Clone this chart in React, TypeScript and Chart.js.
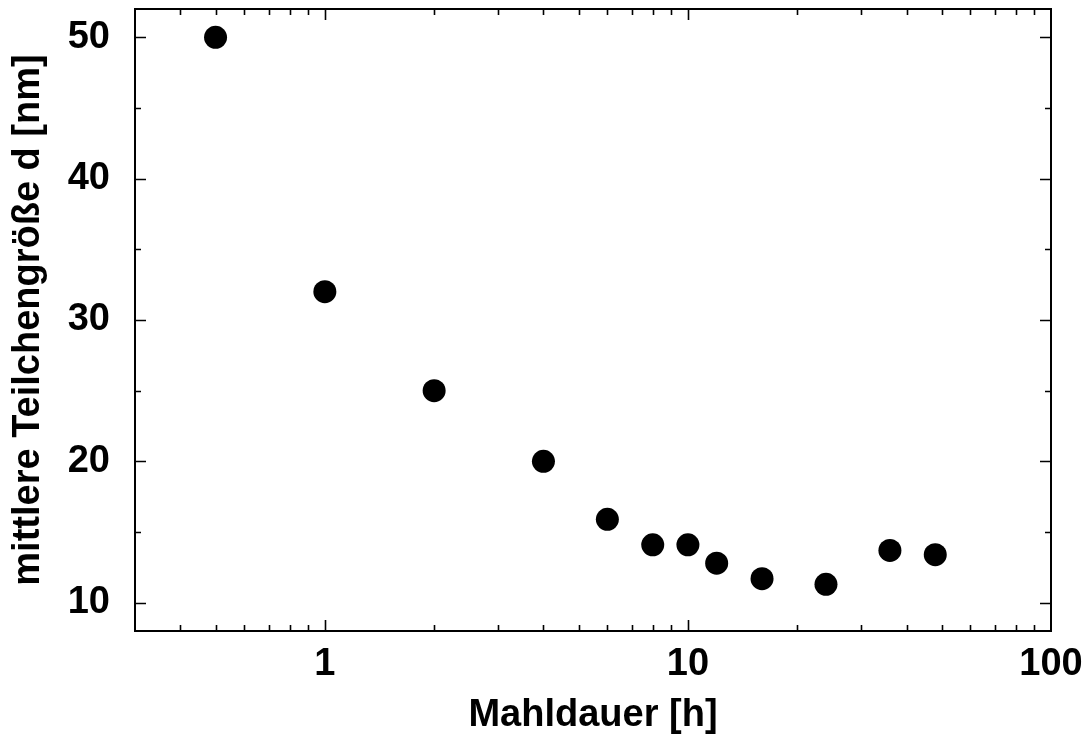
import { useEffect, useRef } from 'react';
import { Chart, registerables } from 'chart.js';

Chart.register(...registerables);

// Data
const millingHours = [0.5, 1, 2, 4, 6, 8, 10, 12, 16, 24, 36, 48];
const particleSizes = [50, 32, 25, 20, 15.9, 14.1, 14.1, 12.8, 11.7, 11.3, 13.7, 13.4];

// Axis ticks
const xMajorTicks = [1, 10, 100];
const xMinorTicks = [0.4, 0.5, 0.6, 0.7, 0.8, 0.9, 2, 3, 4, 5, 6, 7, 8, 9, 20, 30, 40, 50, 60, 70, 80, 90];
const yMajorTicks = [10, 20, 30, 40, 50];
const yMinorTicks = [15, 25, 35, 45];

const xTitle = 'Mahldauer [h]';
const yTitle = 'mittlere Teilchengröße d [nm]';

const FONT = "'Liberation Sans', Arial, Helvetica, sans-serif";

const frameTicksPlugin = {
  id: 'frameTicks',
  beforeDatasetsDraw(chart: any) {
    const { ctx, chartArea, scales } = chart;
    const { left, right, top, bottom } = chartArea;
    ctx.save();
    ctx.strokeStyle = '#000';
    ctx.lineWidth = 1.6;
    const drawX = (vals: number[], len: number) => {
      vals.forEach((v) => {
        const px = Math.round(scales.x.getPixelForValue(v)) + 0.5;
        if (px <= left + 1 || px >= right - 1) return;
        ctx.beginPath();
        ctx.moveTo(px, bottom);
        ctx.lineTo(px, bottom - len);
        ctx.moveTo(px, top);
        ctx.lineTo(px, top + len);
        ctx.stroke();
      });
    };
    const drawY = (vals: number[], len: number) => {
      vals.forEach((v) => {
        const py = Math.round(scales.y.getPixelForValue(v)) + 0.5;
        if (py <= top + 1 || py >= bottom - 1) return;
        ctx.beginPath();
        ctx.moveTo(left, py);
        ctx.lineTo(left + len, py);
        ctx.moveTo(right, py);
        ctx.lineTo(right - len, py);
        ctx.stroke();
      });
    };
    drawX(xMajorTicks, 11);
    drawX(xMinorTicks, 6);
    drawY(yMajorTicks, 11);
    drawY(yMinorTicks, 6);
    ctx.lineWidth = 2;
    ctx.strokeRect(left, top, right - left, bottom - top);
    ctx.restore();
  },
};

export default function App() {
  const canvasRef = useRef<HTMLCanvasElement | null>(null);

  useEffect(() => {
    const canvas = canvasRef.current;
    if (!canvas) return;
    Chart.defaults.color = '#000';
    const chart = new Chart(canvas, {
      type: 'scatter',
      data: {
        datasets: [
          {
            data: millingHours.map((h, i) => ({ x: h, y: particleSizes[i] })),
            backgroundColor: '#000',
            borderColor: '#000',
            borderWidth: 0,
            pointRadius: 11.5,
            pointHoverRadius: 11.5,
          },
        ],
      },
      options: {
        responsive: false,
        animation: false,
        events: [],
        layout: { autoPadding: false, padding: { left: 0, right: 36, top: 9, bottom: 0 } },
        plugins: { legend: { display: false }, tooltip: { enabled: false } },
        scales: {
          x: {
            type: 'logarithmic',
            min: 0.3,
            max: 100,
            grid: { display: false, drawTicks: false },
            border: { display: false },
            afterBuildTicks: (scale: any) => {
              scale.ticks = xMajorTicks.map((v) => ({ value: v }));
            },
            afterFit: (scale: any) => {
              scale.height = 106;
              scale.paddingLeft = 0;
              scale.paddingRight = 0;
              scale.paddingTop = 0;
              scale.paddingBottom = 0;
            },
            ticks: {
              autoSkip: false,
              maxRotation: 0,
              padding: 15,
              color: '#000',
              font: { family: FONT, size: 38, weight: 'bold', lineHeight: 1 },
              callback: (v: any) => String(v),
            },
            title: {
              display: true,
              text: xTitle,
              color: '#000',
              padding: { top: 0, bottom: 2 },
              font: { family: FONT, size: 38, weight: 'bold', lineHeight: 1 },
            },
          },
          y: {
            type: 'linear',
            min: 8,
            max: 52,
            grid: { display: false, drawTicks: false },
            border: { display: false },
            afterBuildTicks: (scale: any) => {
              scale.ticks = yMajorTicks.map((v) => ({ value: v }));
            },
            afterFit: (scale: any) => {
              scale.width = 135;
              scale.paddingLeft = 0;
              scale.paddingRight = 0;
              scale.paddingTop = 0;
              scale.paddingBottom = 0;
            },
            ticks: {
              autoSkip: false,
              padding: 25,
              color: '#000',
              font: { family: FONT, size: 38, weight: 'bold', lineHeight: 1 },
              callback: (v: any) => String(v),
            },
            title: {
              display: true,
              text: yTitle,
              color: '#000',
              padding: { top: 10, bottom: 0 },
              font: { family: FONT, size: 38, weight: 'bold', lineHeight: 1 },
            },
          },
        },
      },
      plugins: [frameTicksPlugin],
    });
    return () => chart.destroy();
  }, []);

  return (
    <div style={{ position: 'fixed', left: 0, top: 0, width: 1087, height: 737, background: '#fff' }}>
      <canvas ref={canvasRef} width={1087} height={737} style={{ display: 'block' }} />
    </div>
  );
}
